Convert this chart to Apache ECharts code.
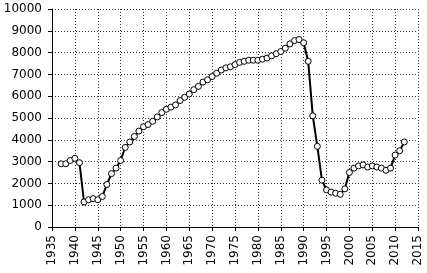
<!DOCTYPE html>
<html>
<head>
<meta charset="utf-8">
<script src="https://cdn.jsdelivr.net/npm/echarts@6/dist/echarts.min.js"></script>
<style>
  html, body { margin: 0; padding: 0; background: #fff; }
  #chart { width: 427px; height: 273px; }
</style>
</head>
<body>
<div id="chart"></div>
<script>
// yearly values
var years = [
  1937, 1938, 1939, 1940, 1941, 1942, 1943, 1944, 1945, 1946,
  1947, 1948, 1949, 1950, 1951, 1952, 1953, 1954, 1955, 1956,
  1957, 1958, 1959, 1960, 1961, 1962, 1963, 1964, 1965, 1966,
  1967, 1968, 1969, 1970, 1971, 1972, 1973, 1974, 1975, 1976,
  1977, 1978, 1979, 1980, 1981, 1982, 1983, 1984, 1985, 1986,
  1987, 1988, 1989, 1990, 1991, 1992, 1993, 1994, 1995, 1996,
  1997, 1998, 1999, 2000, 2001, 2002, 2003, 2004, 2005, 2006,
  2007, 2008, 2009, 2010, 2011, 2012
];
var values = [
  2900, 2900, 3050, 3150, 2950, 1150, 1250, 1300, 1250, 1400,
  1950, 2450, 2700, 3050, 3650, 3900, 4150, 4400, 4600, 4700,
  4850, 5050, 5250, 5400, 5500, 5600, 5800, 5950, 6100, 6300,
  6450, 6650, 6750, 6900, 7050, 7200, 7300, 7350, 7450, 7550,
  7600, 7650, 7650, 7650, 7700, 7750, 7850, 7950, 8050, 8200,
  8400, 8550, 8600, 8450, 7600, 5100, 3700, 2150, 1700, 1600,
  1550, 1500, 1750, 2500, 2700, 2800, 2850, 2750, 2800, 2750,
  2700, 2600, 2700, 3300, 3500, 3900
];

var chart = echarts.init(document.getElementById('chart'));

var font = 'DejaVu Sans';
var dotted = { color: '#333', width: 1, type: [1, 2] };

chart.setOption({
  animation: false,
  backgroundColor: '#fff',
  grid: { left: 52, right: 9, top: 9, bottom: 46 },
  xAxis: {
    type: 'value',
    min: 1935,
    max: 2015,
    interval: 5,
    axisLine: { lineStyle: { color: '#000', width: 1 } },
    axisTick: { show: true, length: 4, lineStyle: { color: '#000' } },
    axisLabel: {
      rotate: 90,
      color: '#000',
      fontFamily: font,
      fontSize: 12,
      margin: 8,
      formatter: function (v) { return String(v); }
    },
    splitLine: { show: true, lineStyle: dotted }
  },
  yAxis: {
    type: 'value',
    min: 0,
    max: 10000,
    interval: 1000,
    axisLine: { show: true, lineStyle: { color: '#000', width: 1 } },
    axisTick: { show: true, length: 4, lineStyle: { color: '#000' } },
    axisLabel: {
      color: '#000',
      fontFamily: font,
      fontSize: 12,
      margin: 10,
      formatter: function (v) { return String(v); }
    },
    splitLine: { show: true, lineStyle: dotted }
  },
  series: [{
    type: 'line',
    data: years.map(function (y, i) { return [y, values[i]]; }),
    symbol: 'circle',
    symbolSize: 6,
    showAllSymbol: true,
    lineStyle: { color: '#000', width: 2 },
    itemStyle: { color: '#fff', borderColor: '#000', borderWidth: 1 }
  }]
});
</script>
</body>
</html>
